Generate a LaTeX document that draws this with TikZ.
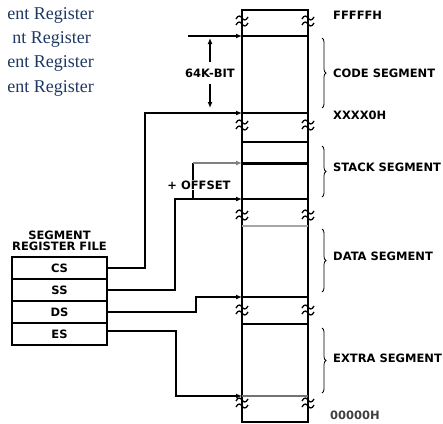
\documentclass[tikz,border=0pt]{standalone}
\usepackage{fontspec}
\setmainfont{Liberation Serif}
\newfontfamily\labelFont{DejaVu Sans}
\usetikzlibrary{arrows.meta, positioning, decorations.pathreplacing}
\definecolor{noteBlue}{RGB}{31,56,100}
\newcommand\memL{242}
\newcommand\memR{308}
\newcommand\memTop{10}
\newcommand\memBot{422}
\newcommand\braceX{322}
\newcommand\textX{333}
\newcommand{\tildeMark}[3]{
    ({#1-6},{#2+#3+1}) .. controls ({#1-4},{#2+#3-3}) and ({#1-1.5},{#2+#3-2.5}) .. (#1,{#2+#3})
    .. controls ({#1+1.5},{#2+#3+2.5}) and ({#1+4},{#2+#3+3}) .. ({#1+6},{#2+#3-1})
}
\newcommand{\memBreak}[2]{
    \draw[line width=1.3pt] \tildeMark{#1}{#2}{-3};
    \draw[line width=1.3pt] \tildeMark{#1}{#2}{3};
}
\newcommand{\segBrace}[5]{
    \draw[decorate, decoration={brace, amplitude=4pt}, line width=0.8pt] (\braceX,#1) -- (\braceX,#2);
    \node[segtext] (#4) at (\textX,#3) {#5};
}
\tikzset{
    segtext/.style={anchor=west, inner sep=0pt, font=\labelFont\bfseries\fontsize{11.5}{12}\selectfont},
    regbox/.style={draw, line width=2pt, minimum width=95pt, minimum height=22pt, inner sep=0pt, font=\labelFont\bfseries\fontsize{11.5}{12}\selectfont},
    conn/.style={line width=2pt, -{Latex[length=6pt, width=5pt]}},
    thinArr/.style={line width=1.2pt, -{Latex[length=6pt, width=5pt]}},
    note/.style={anchor=east, inner sep=0pt, text=noteBlue, font=\fontsize{18}{20}\selectfont}
}

\begin{document}
\begin{tikzpicture}[x=1pt, y=-1pt]
        \useasboundingbox (0,0) rectangle (443,423);

        \node[note] (noteA) at (94,15) {ent Register};
        \node[note] (noteB) at (91,39) {nt Register};
        \node[note] (noteC) at (94,63) {ent Register};
        \node[note] (noteD) at (94,88) {ent Register};

        \begin{scope}
            \draw[line width=2pt] (\memL,\memBot) -- (\memL,\memTop) -- (\memR,\memTop) -- (\memR,\memBot) -- cycle;
            \foreach \y in {36, 113, 142, 199, 297, 324}
                \draw[line width=1.5pt] (\memL,\y) -- (\memR,\y);
            \draw[line width=3pt] (\memL,163) -- (\memR,163);
            \draw[line width=1.2pt, black!35] (\memL,226) -- (\memR,226);
            \draw[line width=1.2pt, black!55] (\memL,396) -- (\memR,396);
            \foreach \y in {21, 125, 215, 310, 403} {
                \memBreak{\memL}{\y}
                \memBreak{\memR}{\y}
            }
        \end{scope}

        \coordinate (codeTop) at (\memL,36);
        \coordinate (codeBase) at (\memL,113);
        \coordinate (stackOff) at (\memL,163);
        \coordinate (stackBase) at (\memL,199);
        \coordinate (dataBase) at (\memL,297);
        \coordinate (extraBase) at (\memL,396);

        \node[segtext] (topAddr) at (\textX,15) {FFFFFH};
        \segBrace{38}{108}{73}{codeLbl}{CODE SEGMENT}
        \node[segtext] (codeAddr) at (\textX,115) {XXXX0H};
        \segBrace{146}{197}{167}{stackLbl}{STACK SEGMENT}
        \segBrace{229}{292}{256}{dataLbl}{DATA SEGMENT}
        \segBrace{328}{393}{358}{extraLbl}{EXTRA SEGMENT}
        \node[segtext, text=black!75] (botAddr) at (330,415) {00000H};

        \node[segtext, anchor=center] (bitLbl) at (210,73) {64K-BIT};
        \draw[conn] ([xshift=-54pt]codeTop) -- (codeTop);
        \draw[thinArr] ([yshift=6pt]bitLbl.north) -- (bitLbl.north |- 0,38);
        \draw[thinArr] ([yshift=-6pt]bitLbl.south) -- (bitLbl.south |- 0,108);

        \node[regbox] (cs) at (59.5,268) {CS};
        \node[regbox, below=-2pt of cs] (ss) {SS};
        \node[regbox, below=-2pt of ss] (ds) {DS};
        \node[regbox, below=-2pt of ds] (es) {ES};
        \node[segtext, anchor=south, align=center, font=\labelFont\bfseries\fontsize{11.5}{11}\selectfont] (regHead) at ([yshift=5pt]cs.north) {SEGMENT\\REGISTER FILE};

        \draw[conn] (cs.east) -| ([xshift=-97pt]codeBase) -- (codeBase);
        \draw[conn] (ss.east) -| ([xshift=-67pt]stackBase) -- (stackBase);
        \draw[conn] (ds.east) -| ([xshift=-46pt]dataBase) -- (dataBase);
        \draw[conn] ([yshift=3pt]es.east) -| ([xshift=-66pt]extraBase) -- (extraBase);

        \draw[line width=2pt] ([xshift=-49pt]stackBase) -- ([xshift=-49pt]stackOff);
        \draw[line width=1.2pt, black!50, -{Latex[length=6pt, width=5pt]}] ([xshift=-49pt]stackOff) -- (stackOff);
        \node[segtext, anchor=center, fill=white, inner sep=1pt] (offLbl) at (199,185) {+ OFFSET};

    \end{tikzpicture}
\end{document}
